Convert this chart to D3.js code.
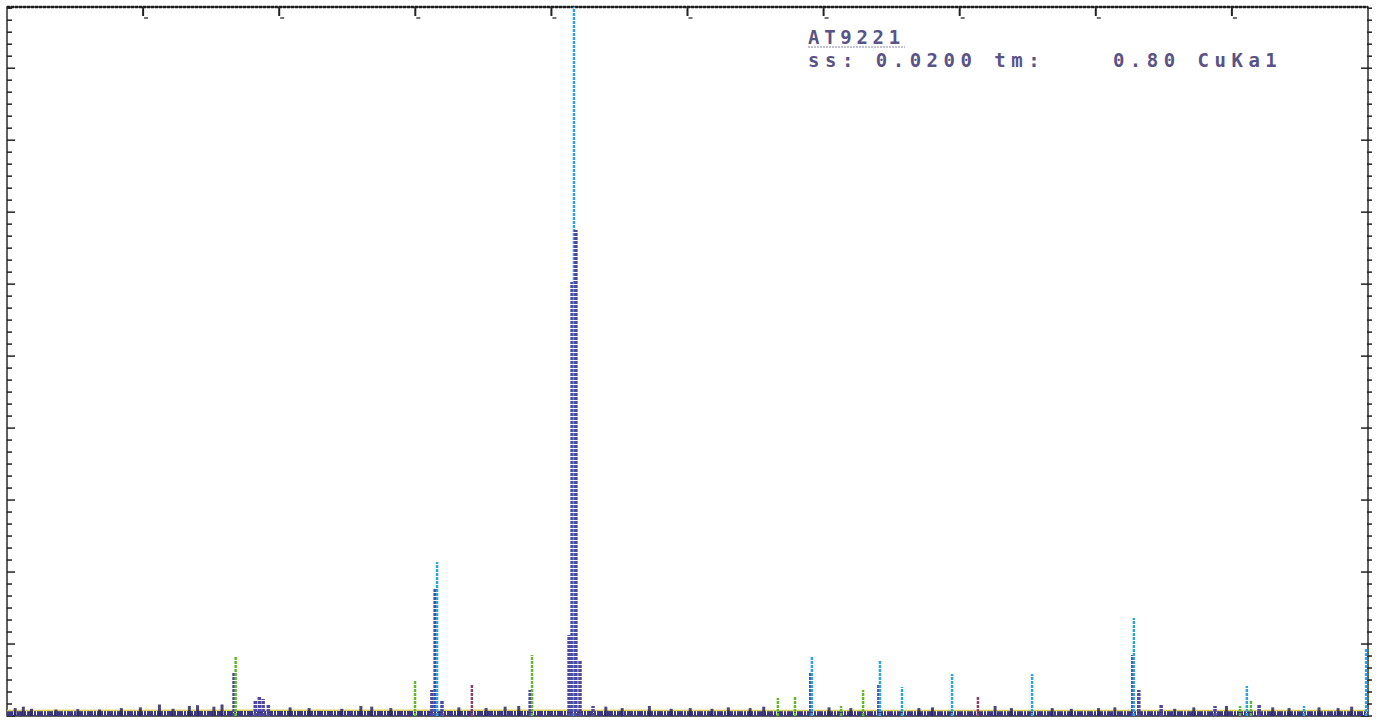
<!DOCTYPE html>
<html>
<head>
<meta charset="utf-8">
<script src="https://cdn.jsdelivr.net/npm/d3@7"></script>
<style>
  body { margin: 0; background: #fff; }
  svg { display: block; }
</style>
</head>
<body>
<div id="chart"></div>
<script>
'use strict';

// 2theta (deg), counts, colour class
var peaks = [
  [18.34, 611, 'p'], [18.40, 833, 'g'],
  [19.12, 222, 'p'], [19.27, 264, 'p'], [19.41, 236, 'p'], [19.60, 167, 'p'],
  [24.99, 486, 'g'],
  [25.61, 361, 'p'], [25.73, 1778, 'p'], [25.80, 2139, 'c'], [25.98, 222, 'p'],
  [27.08, 431, 'r'],
  [29.22, 361, 'p'], [29.29, 847, 'g'],
  [30.65, 1125, 'p'], [30.76, 6028, 'p'], [30.83, 9850, 'c'], [30.90, 6751, 'p'],
  [31.05, 778, 'p'], [31.53, 139, 'p'],
  [38.32, 250, 'g'], [38.95, 264, 'g'],
  [39.53, 611, 'p'], [39.57, 820, 'c'],
  [40.64, 139, 'g'], [41.45, 361, 'g'],
  [42.03, 431, 'p'], [42.07, 764, 'c'], [42.88, 403, 'c'],
  [44.72, 583, 'c'], [45.67, 264, 'r'],
  [47.66, 583, 'c'],
  [51.36, 847, 'p'], [51.40, 1361, 'c'], [51.58, 361, 'p'],
  [52.40, 153, 'p'], [54.38, 139, 'p'],
  [55.30, 139, 'g'], [55.55, 417, 'c'], [55.70, 222, 'g'], [56.00, 167, 'p'],
  [57.65, 139, 'c'],
  [59.93, 944, 'c']
];

// small baseline bumps
var noise = [
  [10.3, 110], [10.6, 130], [10.9, 100], [11.8, 90], [12.6, 95], [13.4, 90], [14.2, 110],
  [14.9, 120], [15.6, 160], [16.1, 100], [16.7, 140], [17.0, 150], [17.6, 130], [17.9, 160],
  [20.4, 120], [21.1, 110], [22.3, 100], [23.0, 140], [23.4, 130], [24.1, 110],
  [26.6, 120], [27.6, 110], [28.3, 130], [28.8, 140],
  [32.0, 130], [32.6, 110], [33.6, 140], [34.4, 100], [35.1, 110], [35.9, 100], [36.5, 120],
  [37.3, 110], [37.8, 130], [40.2, 120], [41.0, 110], [43.5, 110], [44.0, 120], [46.3, 140],
  [46.9, 110], [48.4, 110], [49.1, 100], [50.1, 110], [50.7, 120], [52.9, 100], [53.6, 120],
  [54.8, 140], [56.5, 120], [57.1, 110], [58.2, 120], [58.9, 110], [59.4, 130]
];

var background = [[10, 75], [20, 80], [30, 80], [40, 75], [50, 75], [60, 75]];

var xTicks = [15, 20, 25, 30, 35, 40, 45, 50, 55];
var title = 'AT9221';
var subtitle = 'ss: 0.0200 tm:    0.80 CuKa1';

var colours = { c: '#2ea3dc', g: '#63b82e', p: '#4f47a0', r: '#8a3f6a' };

var width = 1379, height = 725;
var plotLeft = 7, plotRight = 1368, plotTop = 7, plotBottom = 716;

var svg = d3.select('#chart').append('svg')
  .attr('width', width)
  .attr('height', height);

var x = d3.scaleLinear().domain([10, 60]).range([plotLeft, plotRight]);
var y = d3.scaleLinear().domain([0, 9850]).range([plotBottom, plotTop]);

// frame
svg.append('rect')
  .attr('x', plotLeft).attr('y', plotTop)
  .attr('width', plotRight - plotLeft).attr('height', plotBottom - plotTop)
  .attr('fill', 'none')
  .attr('stroke', '#2a2a2a')
  .attr('stroke-width', 1.5);
svg.append('line')
  .attr('x1', plotLeft).attr('x2', plotRight)
  .attr('y1', plotTop).attr('y2', plotTop)
  .attr('stroke', '#1c1c1c').attr('stroke-width', 2.5)
  .attr('stroke-dasharray', '3,1');

// top ticks
svg.selectAll('.xt').data(xTicks).enter().append('line')
  .attr('class', 'xt')
  .attr('x1', function(d) { return x(d); })
  .attr('x2', function(d) { return x(d); })
  .attr('y1', plotTop).attr('y2', plotTop + 9)
  .attr('stroke', '#222').attr('stroke-width', 2);
svg.selectAll('.xm').data(xTicks).enter().append('line')
  .attr('class', 'xm')
  .attr('x1', function(d) { return x(d) + 1; })
  .attr('x2', function(d) { return x(d) + 5; })
  .attr('y1', plotTop + 11).attr('y2', plotTop + 11)
  .attr('stroke', '#444').attr('stroke-width', 1.5);

// side ticks, majors every 1000, 6 minor steps
var yTicks = d3.range(0, 9850, 1000 / 6);
function isMajor(d) { return Math.abs(d / 1000 - Math.round(d / 1000)) < 0.01; }
svg.selectAll('.yl').data(yTicks).enter().append('line')
  .attr('x1', plotLeft).attr('x2', function(d) { return plotLeft + (isMajor(d) ? 8 : 5); })
  .attr('y1', function(d) { return y(d); })
  .attr('y2', function(d) { return y(d); })
  .attr('stroke', '#222').attr('stroke-width', 1.5);
svg.selectAll('.yr').data(yTicks).enter().append('line')
  .attr('x1', function(d) { return plotRight - (isMajor(d) ? 7 : 1); })
  .attr('x2', plotRight + 4)
  .attr('y1', function(d) { return y(d); })
  .attr('y2', function(d) { return y(d); })
  .attr('stroke', '#222').attr('stroke-width', 1.5);

// baseline strip
var line = d3.line()
  .x(function(d) { return x(d[0]); })
  .y(function(d) { return y(d[1]); });
svg.append('line')
  .attr('x1', plotLeft).attr('x2', plotRight)
  .attr('y1', plotBottom - 2.5).attr('y2', plotBottom - 2.5)
  .attr('stroke', '#3d3585').attr('stroke-width', 5)
  .attr('stroke-dasharray', '6,1,2,1');
svg.append('path')
  .datum(background)
  .attr('d', line)
  .attr('fill', 'none')
  .attr('stroke', '#d9d35a')
  .attr('stroke-width', 1.5);

// small bumps
svg.selectAll('.noise').data(noise).enter().append('rect')
  .attr('class', 'noise')
  .attr('x', function(d) { return x(d[0]) - 1.5; })
  .attr('y', function(d) { return y(d[1]); })
  .attr('width', 3)
  .attr('height', function(d) { return plotBottom - y(d[1]); })
  .attr('fill', '#2e2860')
  .attr('opacity', 0.85);

// peaks, dotted sticks like the printer
svg.selectAll('.peak').data(peaks).enter().append('line')
  .attr('class', 'peak')
  .attr('x1', function(d) { return x(d[0]); })
  .attr('x2', function(d) { return x(d[0]); })
  .attr('y1', plotBottom)
  .attr('y2', function(d) { return y(d[1]); })
  .attr('stroke', function(d) { return colours[d[2]]; })
  .attr('stroke-width', function(d) { return d[2] === 'p' ? 3.5 : 2.5; })
  .attr('stroke-dasharray', '3,1');

// header text
svg.append('text')
  .attr('x', 808).attr('y', 44)
  .attr('font-family', 'DejaVu Sans Mono, monospace')
  .attr('font-weight', 'bold')
  .attr('font-size', 19)
  .attr('letter-spacing', 4.7)
  .attr('fill', '#5a5386')
  .text(title);
svg.append('line')
  .attr('x1', 808).attr('x2', 905)
  .attr('y1', 47).attr('y2', 47)
  .attr('stroke', '#8a84b0').attr('stroke-width', 1.2)
  .attr('stroke-dasharray', '2,1');
svg.append('text')
  .attr('x', 808).attr('y', 67)
  .attr('font-family', 'DejaVu Sans Mono, monospace')
  .attr('font-weight', 'bold')
  .attr('font-size', 19)
  .attr('letter-spacing', 5.5)
  .attr('fill', '#5a5386')
  .style('white-space', 'pre')
  .text(subtitle);
</script>
</body>
</html>
